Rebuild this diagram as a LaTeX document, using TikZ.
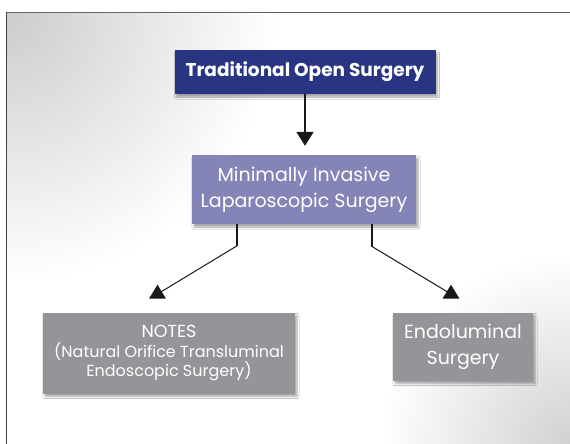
\documentclass[tikz,border=0pt]{standalone}
\usepackage{fontspec}
\setmainfont{Poppins}
\usetikzlibrary{arrows.meta, shadows.blur}

\definecolor{navy}{HTML}{293583}
\definecolor{lavender}{HTML}{8485B6}
\definecolor{slate}{HTML}{939598}
\definecolor{framegray}{HTML}{646464}

\begin{document}
\begin{tikzpicture}[x=1pt, y=-1pt,
    box/.style={rectangle, inner sep=0pt, align=center, text=white,
        blur shadow={shadow xshift=2pt, shadow yshift=-3pt, shadow blur steps=5, shadow opacity=35}},
    stem/.style={line width=2pt, black!90},
    link/.style={line width=1pt, black!90},
    head/.style={fill=black!90}]
        \useasboundingbox (0,0) rectangle (570,444);

        % Draw background and frame
        \begin{scope}
            \clip (6.5,12.5) rectangle (570,444);
            \fill[white] (6.5,12.5) rectangle (570,444);
            \shade[inner color=black!20, outer color=white] (6.5,12.5) circle[radius=270];
            \shade[inner color=black!18, outer color=white] (570,444) circle[radius=190];
        \end{scope}
        \draw[framegray, line width=1.5pt] (570,12.5) -- (6.5,12.5);
        \draw[black!75, line width=1.5pt] (6.5,12) -- (6.5,444);

        % Draw nodes
        \node[box, fill=navy, minimum width=261pt, minimum height=44pt, font=\bfseries\fontsize{18.5}{24}\selectfont] (open) at (305,72) {Traditional Open Surgery};
        \node[box, fill=lavender, minimum width=224pt, minimum height=69pt, font=\fontsize{19}{26}\selectfont] (mis) at (304,189.5) {Minimally Invasive\\Laparoscopic Surgery};
        \node[box, fill=slate, minimum width=252pt, minimum height=81pt, font=\fontsize{16}{19.5}\selectfont] (notes) at (169,353) {{\fontsize{17.5}{19.5}\selectfont NOTES}\\(Natural Orifice Transluminal\\Endoscopic Surgery)};
        \node[box, fill=slate, minimum width=140pt, minimum height=68pt, font=\fontsize{19}{26}\selectfont] (endo) at (463,346.5) {Endoluminal\\Surgery};

        \coordinate (bendL) at (236.7,246);
        \coordinate (bendR) at (372,246.5);
        \coordinate (headL) at (157.5,294);
        \coordinate (headR) at (451,294);

        % Draw connections
        \draw[stem, -{Triangle[width=17pt, length=14pt]}, shorten >=9pt] (open.south) -- (open.south |- mis.north);
        \draw[stem] (mis.south -| bendL) -- (bendL);
        \draw[link] (bendL) -- (headL);
        \draw[stem] (mis.south -| bendR) -- (bendR);
        \draw[link] (bendR) -- (headR);
        \fill[head] (headL) ++(0,-9.3) -- ++(8.5,14) -- ++(-17,0) -- cycle;
        \fill[head] (headR) ++(0,-9.3) -- ++(8.5,14) -- ++(-17,0) -- cycle;
    \end{tikzpicture}
\end{document}
